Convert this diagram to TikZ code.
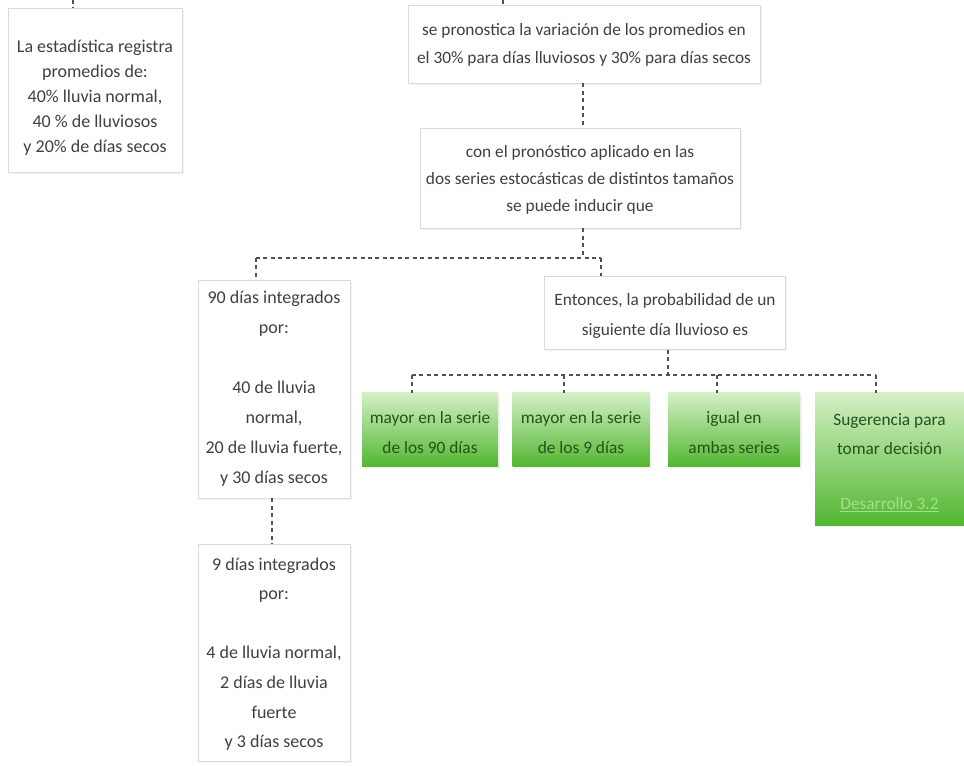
\documentclass[tikz,border=0pt]{standalone}
\usepackage{fontspec}
\setmainfont{Carlito}
\usetikzlibrary{shadows}
\definecolor{txt}{HTML}{404040}
\definecolor{bordc}{HTML}{DADADA}
\definecolor{gtop}{HTML}{D3F0C5}
\definecolor{gbot}{HTML}{52B631}
\definecolor{gtxt}{HTML}{24521A}
\definecolor{glink}{HTML}{A3E08A}
\definecolor{connc}{HTML}{505050}
\tikzset{
  sz/.style 2 args={minimum width=#1*0.75pt, minimum height=#2*0.75pt},
  box/.style={draw=bordc, fill=white, line width=0.7pt, inner sep=0pt,
    drop shadow={shadow xshift=1.2pt, shadow yshift=-1.2pt, opacity=0.10}},
  gbox/.style={draw=none, top color=gtop, bottom color=gbot, inner sep=0pt,
    drop shadow={shadow xshift=1.2pt, shadow yshift=-1.2pt, opacity=0.10}},
  lbl/.style={align=center, text=txt, inner sep=0pt},
  glbl/.style={align=center, text=gtxt, inner sep=0pt, font=\fontsize{13}{22.5}\selectfont},
  conn/.style={draw=connc, line width=0.9pt, dash pattern=on 3pt off 2.6pt}
}
\begin{document}
\begin{tikzpicture}[x=0.75pt,y=-0.75pt]
\useasboundingbox (0,0) rectangle (964,766);

% text boxes
\node[box, sz={174}{164}] (b1) at (95,90) {};
\node[lbl, font=\fontsize{13.5}{18.8}\selectfont] (b1t) at (95,97.5)
  {La estadística registra\\ promedios de:\\ 40\% lluvia normal,\\ 40 \% de lluviosos\\ y 20\% de días secos};
\node[box, sz={352}{78}] (b2) at (584,44) {};
\node[lbl, font=\fontsize{13}{21}\selectfont] (b2t) at (584,44.5)
  {se pronostica la variación de los promedios en\\ el 30\% para días lluviosos y 30\% para días secos};
\node[box, sz={320}{100}] (b3) at (580,178) {};
\node[lbl, font=\fontsize{13}{20}\selectfont] (b3t) at (580,180)
  {con el pronóstico aplicado en las\\ dos series estocásticas de distintos tamaños\\ se puede inducir que};
\node[box, sz={152}{218}] (b5) at (274,389) {};
\node[lbl, font=\fontsize{13.5}{22.5}\selectfont] (b5t) at (274,389)
  {90 días integrados\\ por:\\ \mbox{}\\ 40 de lluvia\\ normal,\\ 20 de lluvia fuerte,\\ y 30 días secos};
\node[box, sz={152}{217}] (b7) at (274,653) {};
\node[lbl, font=\fontsize{13.5}{22.2}\selectfont] (b7t) at (274,654)
  {9 días integrados\\ por:\\ \mbox{}\\ 4 de lluvia normal,\\ 2 días de lluvia\\ fuerte\\ y 3 días secos};
\node[box, sz={241}{73}] (b8) at (665,313) {};
\node[lbl, font=\fontsize{13}{22}\selectfont] (b8t) at (665,316)
  {Entonces, la probabilidad de un\\ siguiente día lluvioso es};

% green boxes
\node[gbox, sz={136}{74}] (g1) at (430,430) {};
\node[glbl] (g1t) at (430,433) {mayor en la serie\\ de los 90 días};
\node[gbox, sz={137}{74}] (g2) at (581,430) {};
\node[glbl] (g2t) at (581,433) {mayor en la serie\\ de los 9 días};
\node[gbox, sz={132}{74}] (g3) at (734,430) {};
\node[glbl] (g3t) at (734,433) {igual en\\ ambas series};
\node[gbox, sz={149}{132}] (g4) at (889.5,459) {};
\node[glbl, font=\fontsize{13}{21.5}\selectfont] (g4t) at (889.5,434)
  {Sugerencia para\\ tomar decisión};
\node[text=glink, font=\fontsize{13}{15}\selectfont, inner sep=0pt] (g4l) at (889.5,505)
  {\underline{Desarrollo 3.2}};

% connectors
\coordinate (t1) at (73,0);
\coordinate (t2) at (503,0);
\coordinate (k0) at (583,0);
\draw[conn] (t1) -- (t1 |- b1.north);
\draw[conn] (t2) -- (t2 |- b2.north);
\draw[conn] (k0 |- b2.south) -- (k0 |- b3.north);

\coordinate (jm) at (583,258);
\coordinate (jl) at (256,258);
\coordinate (jr) at (601,258);
\draw[conn] (jm |- b3.south) -- (jm);
\draw[conn] (jl) -- (jr);
\draw[conn] (jl) -- (jl |- b5.north);
\draw[conn] (jr) -- (jr |- b8.north);

\coordinate (k1) at (272,0);
\draw[conn] (k1 |- b5.south) -- (k1 |- b7.north);

\coordinate (hm) at (668,375);
\coordinate (c1) at (412,375);
\coordinate (c2) at (564,375);
\coordinate (c3) at (717,375);
\coordinate (c4) at (876,375);
\draw[conn] (hm |- b8.south) -- (hm);
\draw[conn] (c1) -- (c4);
\draw[conn] (c1) -- (c1 |- g1.north);
\draw[conn] (c2) -- (c2 |- g2.north);
\draw[conn] (c3) -- (c3 |- g3.north);
\draw[conn] (c4) -- (c4 |- g4.north);
\end{tikzpicture}
\end{document}
